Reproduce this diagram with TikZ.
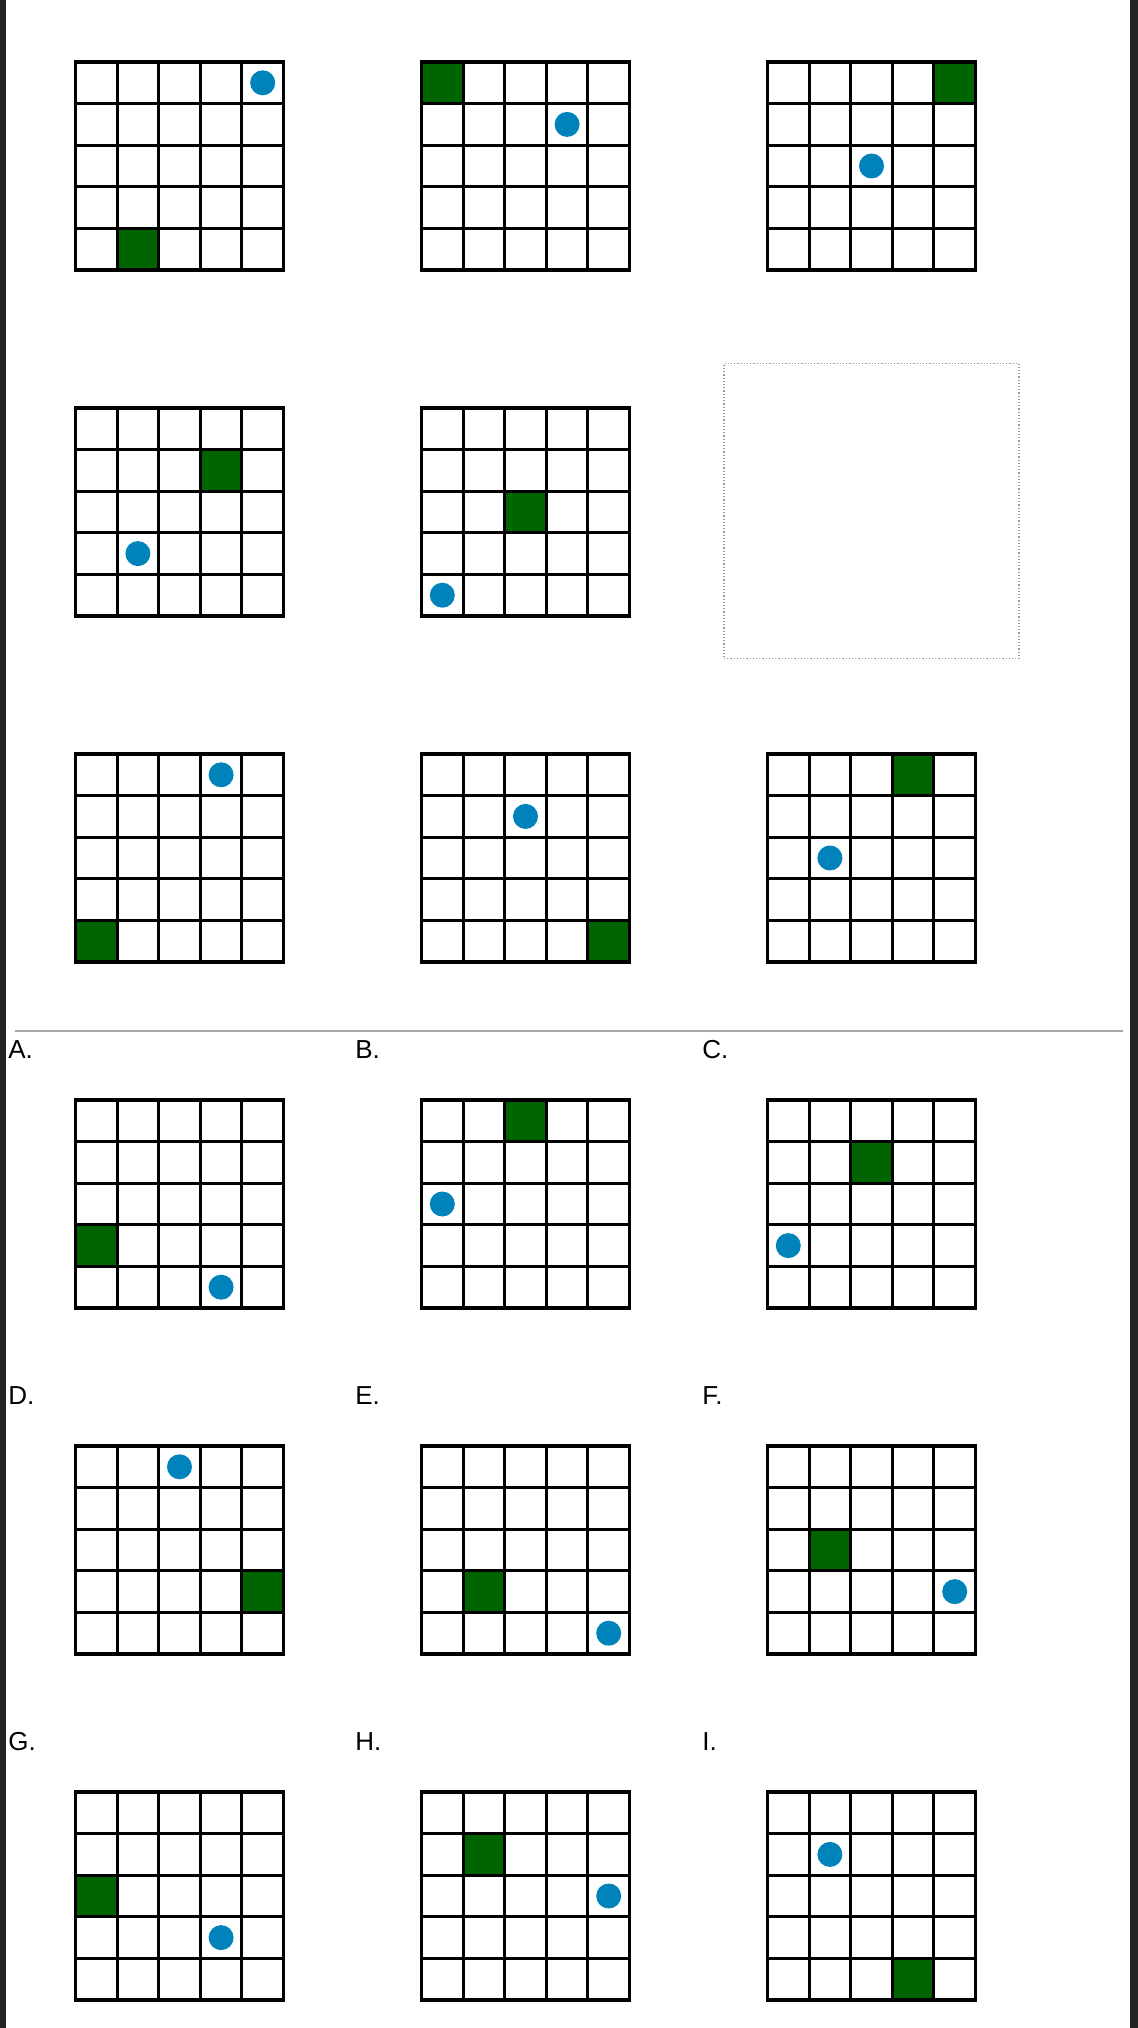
\documentclass[tikz,border=0pt]{standalone}
\usepackage{fontspec}
\setmainfont{Liberation Sans}
\usetikzlibrary{positioning}
\definecolor{GoalGreen}{HTML}{006400}
\definecolor{TokenBlue}{HTML}{0082BA}
\definecolor{FrameDark}{HTML}{232323}
\definecolor{RuleGray}{HTML}{A6A6A6}
\newcommand{\cellsize}{41.6}
\tikzset{
  % one square of a 5x5 panel
  cell/.style={draw=black, line width=1.55pt},
  % green square and blue dot
  goal/.style={fill=GoalGreen},
  token/.style={fill=TokenBlue},
  % empty slot of the question
  blank/.style={
    rectangle, draw=black!40, densely dotted, line width=0.6pt,
    minimum size=147.5pt, inner sep=0pt
  },
  % option letter
  optlbl/.style={anchor=base west, inner sep=0pt, font=\fontsize{13}{15}\selectfont},
  % rule between question and options
  rulebar/.style={draw=RuleGray, line width=0.6pt}
}
% #1 name, #2 x, #3 y, #4/#5 green col/row, #6/#7 dot col/row
\newcommand{\gridpanel}[7]{%
  \coordinate (#1) at (#2,#3);
  \begin{scope}[shift={(#1)}]
    \fill[goal] (#4*\cellsize,#5*\cellsize) rectangle ++(\cellsize,\cellsize);
    \foreach \i in {0,...,4}
      \foreach \j in {0,...,4}
        \draw[cell] (\i*\cellsize,\j*\cellsize) rectangle ++(\cellsize,\cellsize);
    \fill[token] ({(#6+0.5)*\cellsize},{(#7+0.5)*\cellsize}) circle (6.25pt);
  \end{scope}%
}

\begin{document}
\begin{tikzpicture}[x=0.5pt,y=-0.5pt]
  \useasboundingbox (0,0) rectangle (1138,2028);
  \fill[FrameDark] (0,0) rectangle (6,2028);
  \fill[FrameDark] (1130,0) rectangle (1138,2028);

  % question
  \gridpanel{q1}{75.5}{62}{1}{4}{4}{0}
  \gridpanel{q2}{421.5}{62}{0}{0}{3}{1}
  \gridpanel{q3}{767.5}{62}{4}{0}{2}{2}
  \gridpanel{q4}{75.5}{408}{3}{1}{1}{3}
  \gridpanel{q5}{421.5}{408}{2}{2}{0}{4}
  \node[blank] (missing) at (871.5,511) {};
  \gridpanel{q7}{75.5}{754}{0}{4}{3}{0}
  \gridpanel{q8}{421.5}{754}{4}{4}{2}{1}
  \gridpanel{q9}{767.5}{754}{3}{0}{1}{2}

  \coordinate (ruleL) at (15,1031);
  \coordinate (ruleR) at (1123,1031);
  \draw[rulebar] (ruleL) -- (ruleR);

  % options
  \node[optlbl] (lblA) at (8,1058)   {A.};
  \node[optlbl] (lblB) at (355,1058) {B.};
  \node[optlbl] (lblC) at (702,1058) {C.};
  \gridpanel{optA}{75.5}{1100}{0}{3}{3}{4}
  \gridpanel{optB}{421.5}{1100}{2}{0}{0}{2}
  \gridpanel{optC}{767.5}{1100}{2}{1}{0}{3}

  \node[optlbl] (lblD) at (8,1404)   {D.};
  \node[optlbl] (lblE) at (355,1404) {E.};
  \node[optlbl] (lblF) at (702,1404) {F.};
  \gridpanel{optD}{75.5}{1446}{4}{3}{2}{0}
  \gridpanel{optE}{421.5}{1446}{1}{3}{4}{4}
  \gridpanel{optF}{767.5}{1446}{1}{2}{4}{3}

  \node[optlbl] (lblG) at (8,1750)   {G.};
  \node[optlbl] (lblH) at (355,1750) {H.};
  \node[optlbl] (lblI) at (702,1750) {I.};
  \gridpanel{optG}{75.5}{1792}{0}{2}{3}{3}
  \gridpanel{optH}{421.5}{1792}{1}{1}{4}{2}
  \gridpanel{optI}{767.5}{1792}{3}{4}{1}{1}
\end{tikzpicture}
\end{document}
